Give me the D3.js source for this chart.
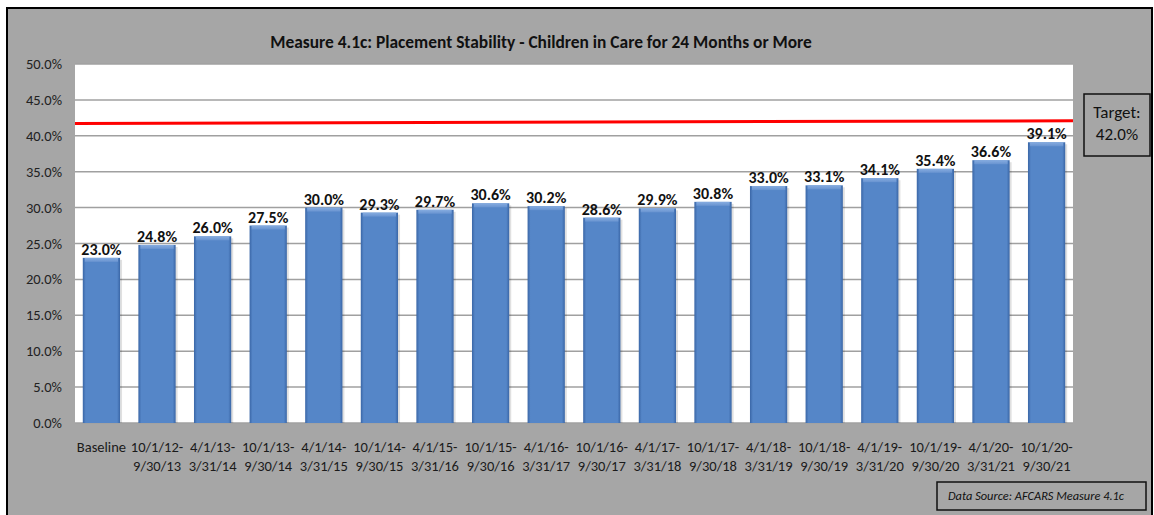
<!DOCTYPE html>
<html>
<head>
<meta charset="utf-8">
<script src="https://cdn.jsdelivr.net/npm/d3@7"></script>
<style>
  body { margin: 0; background: #fff; }
  text { font-family: Calibri, Carlito, "Liberation Sans", Arial, sans-serif; }
</style>
</head>
<body>
<script>
var w = 1154;
var h = 515;

var periodStart = ["Baseline", "10/1/12-", "4/1/13-", "10/1/13-", "4/1/14-", "10/1/14-", "4/1/15-", "10/1/15-", "4/1/16-",
  "10/1/16-", "4/1/17-", "10/1/17-", "4/1/18-", "10/1/18-", "4/1/19-", "10/1/19-", "4/1/20-", "10/1/20-"];
var periodEnd = ["", "9/30/13", "3/31/14", "9/30/14", "3/31/15", "9/30/15", "3/31/16", "9/30/16", "3/31/17",
  "9/30/17", "3/31/18", "9/30/18", "3/31/19", "9/30/19", "3/31/20", "9/30/20", "3/31/21", "9/30/21"];
var stability = [23.0, 24.8, 26.0, 27.5, 30.0, 29.3, 29.7, 30.6, 30.2, 28.6, 29.9, 30.8, 33.0, 33.1, 34.1, 35.4, 36.6, 39.1];
var yTicks = [0, 5, 10, 15, 20, 25, 30, 35, 40, 45, 50];
// red target line as drawn (slightly tilted in the original)
var targetLine = [41.7, 42.1];
var target = 42.0;

var plot = { left: 75, right: 1073, top: 64, bottom: 423 };

var svg = d3.select("body").append("svg")
  .attr("width", w)
  .attr("height", h);

// chart background
svg.append("rect")
  .attr("x", 0).attr("y", 0).attr("width", w).attr("height", h)
  .attr("fill", "#fff");
svg.append("rect")
  .attr("x", 7).attr("y", 8).attr("width", 1145).attr("height", 520)
  .attr("fill", "#a6a6a6")
  .attr("stroke", "#000").attr("stroke-width", 2);

var defs = svg.append("defs");
var grad = defs.append("linearGradient").attr("id", "barGrad")
  .attr("x1", "0%").attr("x2", "100%").attr("y1", "0%").attr("y2", "0%");
grad.append("stop").attr("offset", "0%").attr("stop-color", "#3a66a6");
grad.append("stop").attr("offset", "8%").attr("stop-color", "#5586c8");
grad.append("stop").attr("offset", "92%").attr("stop-color", "#5586c8");
grad.append("stop").attr("offset", "100%").attr("stop-color", "#3a66a6");
var topGrad = defs.append("linearGradient").attr("id", "topGrad")
  .attr("x1", "0%").attr("x2", "0%").attr("y1", "0%").attr("y2", "100%");
topGrad.append("stop").attr("offset", "0%").attr("stop-color", "#86ace0");
topGrad.append("stop").attr("offset", "100%").attr("stop-color", "#6893d0");

var x = d3.scaleBand()
  .domain(d3.range(stability.length))
  .range([plot.left, plot.right])
  .paddingInner(0.33)
  .paddingOuter(0.14);

var y = d3.scaleLinear()
  .domain([0, 50])
  .range([plot.bottom, plot.top]);

// plot area
svg.append("rect")
  .attr("x", plot.left).attr("y", plot.top)
  .attr("width", plot.right - plot.left).attr("height", plot.bottom - plot.top)
  .attr("fill", "#fff");

// gridlines
svg.append("g")
  .selectAll("line")
  .data(yTicks)
  .join("line")
  .attr("x1", plot.left).attr("x2", plot.right)
  .attr("y1", d => y(d)).attr("y2", d => y(d))
  .attr("stroke", "#a0a0a0").attr("stroke-width", 1.5);

// y labels
svg.append("g")
  .selectAll("text")
  .data(yTicks)
  .join("text")
  .attr("x", 62)
  .attr("y", d => y(d) + 5)
  .attr("text-anchor", "end")
  .attr("font-size", 14.5)
  .attr("fill", "#222")
  .text(d => d.toFixed(1) + "%");

// bars
var bars = svg.append("g")
  .selectAll("g")
  .data(stability)
  .join("g");

bars.append("rect")
  .attr("x", (d, i) => x(i) + 2)
  .attr("y", d => y(d) + 2)
  .attr("width", x.bandwidth())
  .attr("height", d => y(0) - y(d) - 2)
  .attr("fill", "#000").attr("opacity", 0.12);

bars.append("rect")
  .attr("x", (d, i) => x(i))
  .attr("y", d => y(d))
  .attr("width", x.bandwidth())
  .attr("height", d => y(0) - y(d))
  .attr("fill", "url(#barGrad)");

bars.append("rect")
  .attr("x", (d, i) => x(i) + 2)
  .attr("y", d => y(d))
  .attr("width", x.bandwidth() - 4)
  .attr("height", 4)
  .attr("fill", "url(#topGrad)");

// value labels
bars.append("text")
  .attr("x", (d, i) => x(i) + x.bandwidth() / 2)
  .attr("y", d => y(d) - 3)
  .attr("text-anchor", "middle")
  .attr("font-size", 16)
  .attr("font-weight", "bold")
  .attr("fill", "#111")
  .text(d => d.toFixed(1) + "%");

// target line
svg.append("line")
  .attr("x1", plot.left).attr("x2", plot.right)
  .attr("y1", y(targetLine[0])).attr("y2", y(targetLine[1]))
  .attr("stroke", "#ff0000").attr("stroke-width", 3);

// x labels
var xl = svg.append("g")
  .selectAll("text")
  .data(periodStart)
  .join("text")
  .attr("x", (d, i) => x(i) + x.bandwidth() / 2)
  .attr("y", 452)
  .attr("text-anchor", "middle")
  .attr("font-size", 14.5)
  .attr("fill", "#1a1a1a");
xl.append("tspan").text(d => d);
xl.append("tspan")
  .attr("x", (d, i) => x(i) + x.bandwidth() / 2)
  .attr("dy", 19)
  .text((d, i) => periodEnd[i]);

// title
svg.append("text")
  .attr("x", 541).attr("y", 48)
  .attr("text-anchor", "middle")
  .attr("font-size", 17.4)
  .attr("font-weight", "bold")
  .attr("fill", "#111")
  .text("Measure 4.1c: Placement Stability - Children in Care for 24 Months or More");

// target box
svg.append("rect")
  .attr("x", 1084).attr("y", 94).attr("width", 66).attr("height", 62)
  .attr("fill", "none").attr("stroke", "#111").attr("stroke-width", 1.5);
svg.append("text")
  .attr("x", 1117).attr("y", 118)
  .attr("text-anchor", "middle").attr("font-size", 17).attr("fill", "#111")
  .text("Target:");
svg.append("text")
  .attr("x", 1117).attr("y", 140)
  .attr("text-anchor", "middle").attr("font-size", 17).attr("fill", "#111")
  .text(target.toFixed(1) + "%");

// data source box
svg.append("rect")
  .attr("x", 937).attr("y", 482).attr("width", 209).attr("height", 28)
  .attr("fill", "none").attr("stroke", "#111").attr("stroke-width", 1.5);
svg.append("text")
  .attr("x", 948).attr("y", 500)
  .attr("font-size", 13)
  .attr("font-style", "italic").attr("fill", "#111")
  .attr("textLength", 176).attr("lengthAdjust", "spacingAndGlyphs")
  .text("Data Source: AFCARS Measure 4.1c");
</script>
</body>
</html>
